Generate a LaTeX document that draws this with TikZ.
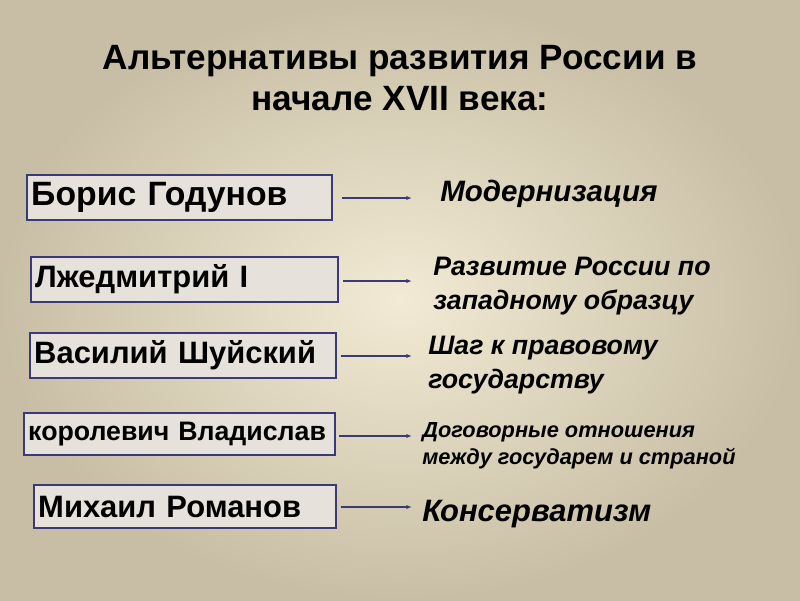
\documentclass[tikz,border=0pt]{standalone}
\usepackage{fontspec}
\setmainfont{Liberation Sans}
\usetikzlibrary{arrows.meta,positioning}
\definecolor{navy}{HTML}{3A3A78}
\definecolor{boxfill}{HTML}{E6E1DB}
\tikzset{
  person/.style={draw=navy,line width=1.2pt,fill=boxfill,anchor=west,
    minimum height=1.12cm,inner sep=3pt,align=left,font=\bfseries\fontsize{22}{26}\selectfont},
  idea/.style={anchor=west,align=left,inner sep=0pt,font=\bfseries\itshape\fontsize{19}{24}\selectfont},
  link/.style={-{Latex[length=4pt,width=3pt]},draw=navy,line width=0.8pt}
}
\begin{document}
\begin{tikzpicture}[x=0.025cm,y=-0.025cm]
\shade[inner color={rgb,255:red,242;green,234;blue,212},outer color={rgb,255:red,200;green,190;blue,165}]
  (0,0) rectangle (800,600);
\useasboundingbox (0,0) rectangle (800,600);

% title
\node[align=center,font=\bfseries\fontsize{25}{29}\selectfont] (title) at (400,78)
  {Альтернативы развития России в\\начале XVII века:};

% persons
\node[person,minimum width=7.62cm,text width=7.4cm,font=\bfseries\fontsize{24}{26}\selectfont] (b1) at (26,197.5) {Борис Годунов};
\node[person,minimum width=7.68cm,text width=7.46cm] (b2) at (30,279.5) {Лжедмитрий I};
\node[person,minimum width=7.65cm,text width=7.43cm] (b3) at (29,355.5) {Василий Шуйский};
\node[person,minimum width=7.78cm,text width=7.56cm,minimum height=1.05cm,
  font=\bfseries\fontsize{19}{22}\selectfont] (b4) at (23,434) {королевич Владислав};
\node[person,minimum width=7.55cm,text width=7.33cm,minimum height=1.07cm] (b5) at (33,506.5) {Михаил Романов};

% ideas
\node[idea,font=\bfseries\itshape\fontsize{21}{24}\selectfont] (m1) at (440,194) {Модернизация};
\node[idea] (m2) at (433,286) {Развитие России по\\западному образцу};
\node[idea] (m3) at (428,365) {Шаг к правовому\\государству};
\node[idea,font=\bfseries\itshape\fontsize{15.5}{19}\selectfont] (m4) at (422,446)
  {Договорные отношения\\между государем и страной};
\node[idea,font=\bfseries\itshape\fontsize{22}{24}\selectfont] (m5) at (422,514) {Консерватизм};

% arrow ends
\coordinate (e1) at (412,198);
\coordinate (e2) at (412,281);
\coordinate (e3) at (412,356);
\coordinate (e4) at (412,436);
\coordinate (e5) at (412,507);

\draw[link] ([xshift=7]b1.east |- e1) -- (e1);
\draw[link] ([xshift=3]b2.east |- e2) -- (e2);
\draw[link] ([xshift=3]b3.east |- e3) -- (e3);
\draw[link] ([xshift=2]b4.east |- e4) -- (e4);
\draw[link] ([xshift=3]b5.east |- e5) -- (e5);
\end{tikzpicture}
\end{document}
